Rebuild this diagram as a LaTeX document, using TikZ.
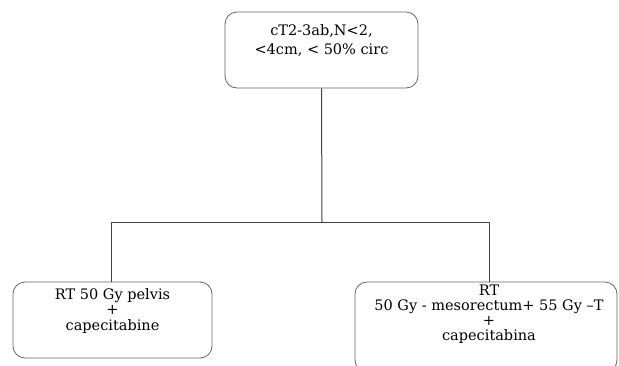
\documentclass[tikz,border=0pt]{standalone}
\usepackage{fontspec}
\setmainfont{DejaVu Serif}
\begin{document}
\begin{tikzpicture}[x=1pt,y=-1pt,
  box/.style={draw=black!60, line width=0.8pt, rounded corners=12pt, inner sep=0pt},
  txt/.style={align=center, font=\fontsize{14.5}{19.5}\selectfont, inner sep=0pt},
  txtb/.style={align=center, font=\fontsize{14.5}{15}\selectfont, inner sep=0pt},
  conn/.style={draw=black!75, line width=1pt}]
\useasboundingbox[fill=white] (0,0) rectangle (619,365);
\node[box, minimum width=193pt, minimum height=76pt] (top) at (321.5,50) {};
\node[txt, anchor=north] (toptext) at (321.5,24) {cT2-3ab,N<2,\\<4cm, < 50\% circ};
\node[box, minimum width=199pt, minimum height=76pt] (left) at (112.5,320) {};
\node[txtb, anchor=north] (lefttext) at (112.5,288) {RT 50 Gy pelvis\\+\\[1.5pt]capecitabine};
\node[box, minimum width=262pt, minimum height=90pt] (right) at (486,327) {};
\node[txtb, anchor=north] (righttext) at (489,285) {RT\\50 Gy - mesorectum+ 55 Gy –T\\+\\capecitabina};
\coordinate (j) at (322,222);
\coordinate (jl) at (111,222);
\coordinate (jr) at (489,222);
\draw[conn] (top.south) -- (j);
\draw[conn] (jl) -- (jr);
\draw[conn] (jl) -- (jl |- left.north);
\draw[conn] (jr) -- (jr |- right.north);
\end{tikzpicture}
\end{document}
